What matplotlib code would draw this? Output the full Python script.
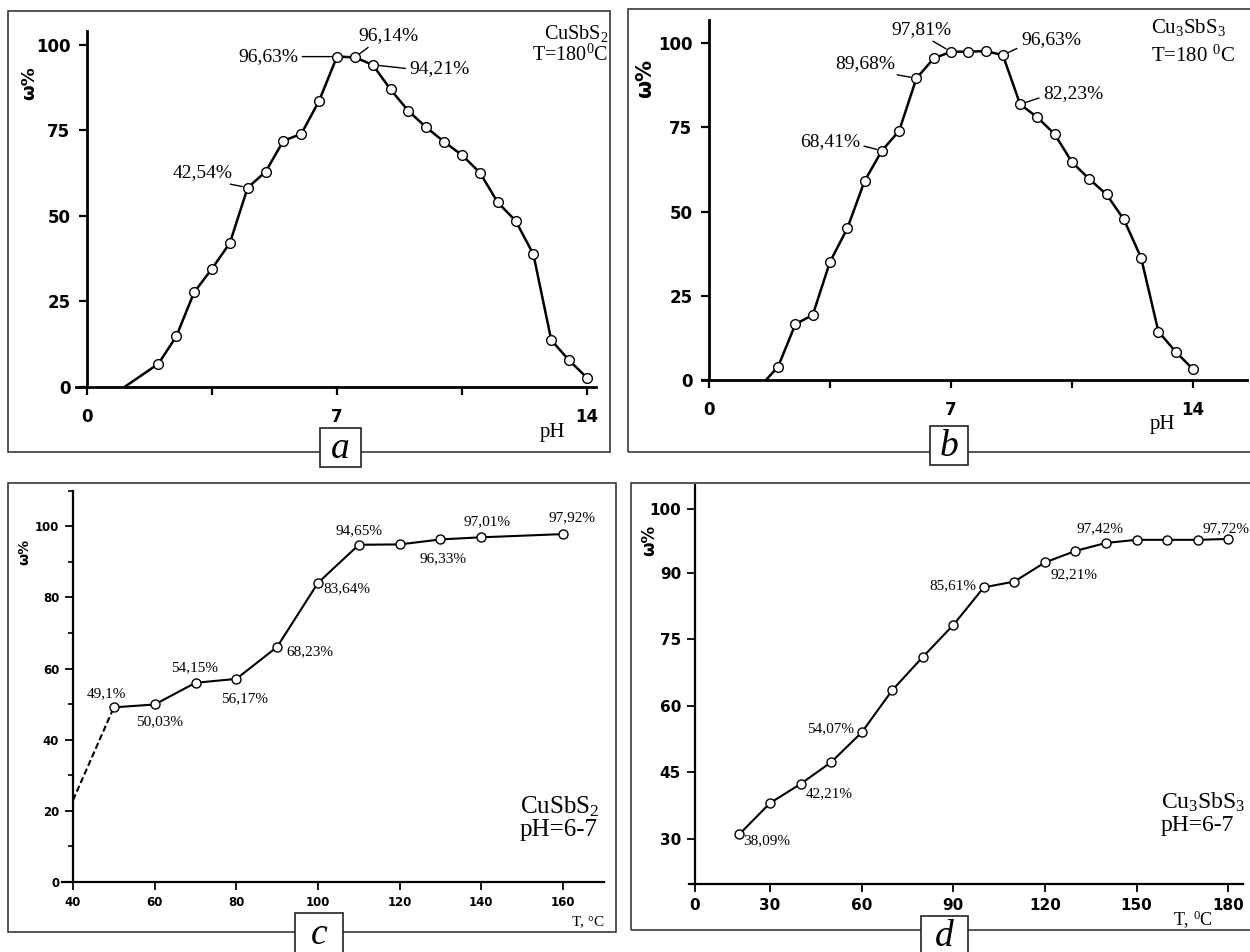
import matplotlib
matplotlib.use("Agg")
import matplotlib.pyplot as plt
from matplotlib.patches import Rectangle

# datos
ph_a = [2, 2.5, 3, 3.5, 4, 4.5, 5, 5.5, 6, 6.5, 7, 7.5, 8, 8.5, 9,
        9.5, 10, 10.5, 11, 11.5, 12, 12.5, 13, 13.5, 14]
w_a = [6.8, 14.8, 27.7, 34.6, 42.1, 58.3, 62.9, 72.0, 74.0, 83.7, 96.6, 96.4, 94.2,
       87.0, 80.7, 75.9, 71.7, 67.8, 62.7, 54.0, 48.6, 38.8, 13.7, 7.8, 2.7]
onset_a = (1.05, 0.0)

ph_b = [2, 2.5, 3, 3.5, 4, 4.5, 5, 5.5, 6, 6.5, 7, 7.5, 8, 8.5, 9,
        9.5, 10, 10.5, 11, 11.5, 12, 12.5, 13, 13.5, 14]
w_b = [4.0, 16.6, 19.3, 35.1, 45.0, 59.1, 68.1, 74.0, 89.6, 95.5, 97.5, 97.5, 97.7,
       96.5, 81.9, 78.0, 73.0, 64.7, 59.7, 55.1, 47.7, 36.3, 14.4, 8.4, 3.2]
onset_b = (1.65, 0.0)

t_c = [50, 60, 70, 80, 90, 100, 110, 120, 130, 140, 160]
w_c = [49.1, 49.9, 56.0, 57.1, 66.1, 84.1, 94.8, 94.9, 96.3, 96.9, 97.8]
onset_c = (40, 23.0)

t_d = [20, 30, 40, 50, 60, 70, 80, 90, 100, 110, 120, 130, 140, 150, 160, 170, 180]
w_d = [31.1, 38.1, 42.4, 47.3, 54.0, 63.5, 71.0, 78.2, 86.7, 88.0, 92.3, 94.9,
       96.7, 97.4, 97.4, 97.4, 97.6]

lab_a = ['42,54%', '96,63%', '96,14%', '94,21%']
idx_a = [5, 10, 11, 12]
lab_b = ['97,81%', '89,68%', '68,41%', '96,63%', '82,23%']
idx_b = [10, 8, 6, 13, 14]
lab_c = ['49,1%', '50,03%', '54,15%', '56,17%', '68,23%', '83,64%', '94,65%',
         '96,33%', '97,01%', '97,92%']
idx_c = [0, 1, 2, 3, 4, 5, 6, 8, 9, 10]
lab_d = ['38,09%', '42,21%', '54,07%', '85,61%', '92,21%', '97,42%', '97,72%']
idx_d = [0, 2, 4, 8, 10, 12, 16]

ticks_ab_y = [0, 25, 50, 75, 100]
ticks_ab_x = [0, 3.5, 7, 10.5, 14]
ticklab_ab_x = ['0', '', '7', '', '14']
ticks_c_x = [40, 60, 80, 100, 120, 140, 160]
ticks_c_y = [0, 20, 40, 60, 80, 100]
# en el original el "0" y el "100" de d no caen en su valor real
ticks_d_x = [5.4, 30, 60, 90, 120, 150, 180]
ticklab_d_x = ['0', '30', '60', '90', '120', '150', '180']
ticks_d_y = [30, 45, 60, 75, 90, 104.4]
ticklab_d_y = ['30', '45', '60', '75', '90', '100']

plt.rcParams['mathtext.fontset'] = 'custom'
plt.rcParams['mathtext.rm'] = 'Liberation Serif'
plt.rcParams['mathtext.it'] = 'Liberation Serif:italic'
SERIF = 'Liberation Serif'
SANS = 'DejaVu Sans'

W, H = 1250, 952
fig = plt.figure(figsize=(W / 100, H / 100), dpi=100)


def fx(x):
    return x / W


def fy(y):
    return 1 - y / H


def frame(x0, y0, x1, y1):
    fig.add_artist(Rectangle((fx(x0), fy(y1)), (x1 - x0) / W, (y1 - y0) / H,
                             transform=fig.transFigure, fill=False, lw=1.2,
                             ec='#3a3a3a', zorder=1))


def letter_box(x0, y0, x1, y1, s):
    fig.add_artist(Rectangle((fx(x0), fy(y1)), (x1 - x0) / W, (y1 - y0) / H,
                             transform=fig.transFigure, fc='white', lw=1.2,
                             ec='#222222', zorder=5))
    fig.text(fx((x0 + x1) / 2), fy((y0 + y1) / 2 + 1), s, ha='center', va='center',
             fontsize=27, style='italic', family=SERIF, zorder=6)


def style_axes(ax, lw, size, tl, pad):
    for s in ['top', 'right']:
        ax.spines[s].set_visible(False)
    ax.spines['left'].set_linewidth(lw)
    ax.spines['bottom'].set_linewidth(lw)
    ax.tick_params(direction='out', length=tl, width=lw * 0.8, pad=pad)
    for lbl in ax.get_xticklabels() + ax.get_yticklabels():
        lbl.set_fontfamily(SANS)
        lbl.set_fontweight('bold')
        lbl.set_fontsize(size)
    ax.patch.set_alpha(0)


frame(8, 11, 610, 452)
frame(628, 9, 1260, 452)
frame(8, 483, 616, 932)
frame(631, 483, 1260, 930)

mk = dict(marker='o', mfc='white', mec='black', mew=1.0, color='black')

# ---- a ----
ax = fig.add_axes([0.06104, 0.59349, 0.41568, 0.37363])
ax.plot([onset_a[0], ph_a[0]], [onset_a[1], w_a[0]], color='black', lw=1.8)
ax.plot(ph_a, w_a, lw=1.8, ms=7, **mk)
ax.set_xlim(-0.3, 14.25)
ax.set_ylim(0, 104)
ax.spines['left'].set_position(('data', 0))
ax.set_xticks(ticks_ab_x, ticklab_ab_x)
ax.set_yticks(ticks_ab_y)
style_axes(ax, 2.0, 12, 6, 6)
ax.tick_params(axis='x', pad=9)
offs_a = [(-32.4, 10.8, 'center', (0.7, 0)), (-28, 0, 'right', (1, 0.5)),
          (2.2, 15.8, 'left', (0.25, 0)), (26.6, -2.9, 'left', (0, 0.5))]
for s, i, (dx, dy, ha, rp) in zip(lab_a, idx_a, offs_a):
    ax.annotate(s, (ph_a[i], w_a[i]), xytext=(dx, dy), textcoords='offset points',
                ha=ha, va='center', fontsize=14, family=SERIF,
                arrowprops=dict(arrowstyle='-', color='black', lw=1.0,
                                shrinkA=1, shrinkB=4, relpos=rp))
fig.text(fx(608), fy(33), r'CuSbS$_2$', ha='right', va='center', fontsize=14.5, family=SERIF)
fig.text(fx(608), fy(55), r'T=180$^0$C', ha='right', va='center', fontsize=14.5, family=SERIF)
fig.text(fx(552), fy(432), 'pH', ha='center', va='center', fontsize=15, family=SERIF)
fig.text(fx(29), fy(83), 'ω%', ha='center', va='center', rotation=90,
         fontsize=13, family=SANS, fontweight='bold')
letter_box(320, 428, 361, 467, 'a')

# ---- b ----
ax = fig.add_axes([0.56168, 0.60084, 0.43584, 0.37773])
ax.plot([onset_b[0], ph_b[0]], [onset_b[1], w_b[0]], color='black', lw=1.8)
ax.plot(ph_b, w_b, lw=1.8, ms=7, **mk)
ax.set_xlim(-0.2, 15.56)
ax.set_ylim(0, 106.8)
ax.spines['left'].set_position(('data', 0))
ax.set_xticks(ticks_ab_x, ticklab_ab_x)
ax.set_yticks(ticks_ab_y)
style_axes(ax, 2.0, 12, 6, 6)
ax.tick_params(axis='x', pad=9)
offs_b = [(-21.6, 16.2, 'center', (0.6, 0)), (-36.7, 10.8, 'center', (0.75, 0)),
          (-15.8, 6.5, 'right', (1, 0.3)), (13, 10.8, 'left', (0.05, 0.2)),
          (16.6, 7.9, 'left', (0, 0.3))]
for s, i, (dx, dy, ha, rp) in zip(lab_b, idx_b, offs_b):
    ax.annotate(s, (ph_b[i], w_b[i]), xytext=(dx, dy), textcoords='offset points',
                ha=ha, va='center', fontsize=14, family=SERIF,
                arrowprops=dict(arrowstyle='-', color='black', lw=1.0,
                                shrinkA=1, shrinkB=4, relpos=rp))
fig.text(fx(1151), fy(27), r'Cu$_3$SbS$_3$', ha='left', va='center', fontsize=15, family=SERIF)
fig.text(fx(1151), fy(56), r'T=180 $^0$C', ha='left', va='center', fontsize=15, family=SERIF)
fig.text(fx(1162), fy(424), 'pH', ha='center', va='center', fontsize=15, family=SERIF)
fig.text(fx(645), fy(78), 'ω%', ha='center', va='center', rotation=90,
         fontsize=15, family=SANS, fontweight='bold')
letter_box(930, 426, 968, 465, 'b')

# ---- c ----
ax = fig.add_axes([0.0496, 0.07353, 0.43344, 0.41103])
ax.plot([onset_c[0], t_c[0]], [onset_c[1], w_c[0]], color='black', lw=1.5, ls=(0, (3, 1.5)))
ax.plot(t_c, w_c, lw=1.5, ms=6.5, **mk)
ax.set_xlim(37.3, 170)
ax.set_ylim(0, 110)
ax.spines['left'].set_position(('data', 40))
ax.set_xticks(ticks_c_x)
ax.set_yticks(ticks_c_y)
ax.set_yticks([10, 30, 50, 70, 90, 110], minor=True)
style_axes(ax, 1.6, 8.5, 6, 4)
ax.tick_params(which='minor', length=3.5, width=1.2)
offs_c = [(-5.4, 9.9), (3.8, -12.5), (-0.6, 11.2), (6.2, -14.3), (23.5, -3.8),
          (20.9, -4.3), (0, 10.2), (1.7, -14), (4.1, 11.2), (6.2, 11.5)]
for s, i, (dx, dy) in zip(lab_c, idx_c, offs_c):
    ax.annotate(s, (t_c[i], w_c[i]), xytext=(dx, dy), textcoords='offset points',
                ha='center', va='center', fontsize=11, family=SERIF)
fig.text(fx(520), fy(807), r'CuSbS$_2$', ha='left', va='center', fontsize=18, family=SERIF)
fig.text(fx(520), fy(830), 'pH=6-7', ha='left', va='center', fontsize=18, family=SERIF)
fig.text(fx(588), fy(922), 'T, °C', ha='center', va='center', fontsize=11, family=SERIF)
fig.text(fx(24), fy(552), 'ω%', ha='center', va='center', rotation=90,
         fontsize=10, family=SANS, fontweight='bold')
letter_box(295, 913, 343, 955, 'c')

# ---- d ----
ax = fig.add_axes([0.55104, 0.07143, 0.44368, 0.41933])
ax.plot(t_d, w_d, lw=1.5, ms=6.5, **mk)
ax.set_xlim(3.4, 185)
ax.set_ylim(19.86, 109.8)
ax.spines['left'].set_position(('data', 5.4))
ax.set_xticks(ticks_d_x, ticklab_d_x)
ax.set_yticks(ticks_d_y, ticklab_d_y)
style_axes(ax, 1.6, 11, 6, 4)
offs_d = [(2.4, -4.8, 'left'), (3.7, -6.7, 'left'), (-5.7, 2.5, 'right'),
          (-5.3, 1.0, 'right'), (3.7, -8.9, 'left'), (-4.6, 10.2, 'center'),
          (-1.7, 7.3, 'center')]
for s, i, (dx, dy, ha) in zip(lab_d, idx_d, offs_d):
    ax.annotate(s, (t_d[i], w_d[i]), xytext=(dx, dy), textcoords='offset points',
                ha=ha, va='center', fontsize=11, family=SERIF)
fig.text(fx(1161), fy(802), r'Cu$_3$SbS$_3$', ha='left', va='center', fontsize=17, family=SERIF)
fig.text(fx(1161), fy(826), 'pH=6-7', ha='left', va='center', fontsize=17, family=SERIF)
fig.text(fx(1193), fy(920), r'T, $^0$C', ha='center', va='center', fontsize=13, family=SERIF)
fig.text(fx(649), fy(540), 'ω%', ha='center', va='center', rotation=90,
         fontsize=12, family=SANS, fontweight='bold')
letter_box(921, 916, 968, 955, 'd')

fig.savefig('out.png', dpi=100)
